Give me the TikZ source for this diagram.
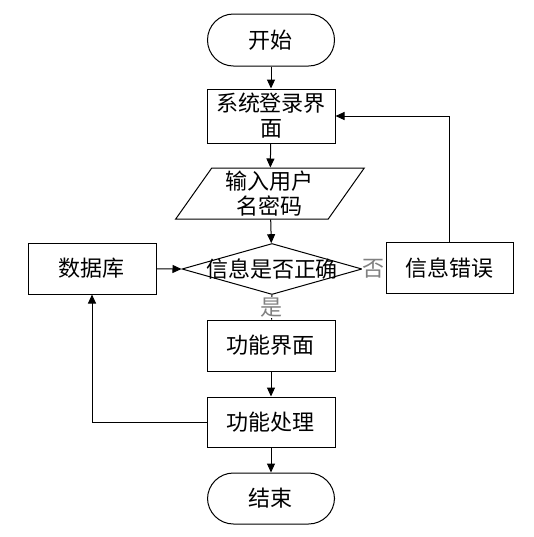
\documentclass[tikz,border=0pt]{standalone}
\usepackage{fontspec}
\setmainfont{Noto Sans CJK SC}
\usepackage{tikz}
\usetikzlibrary{shapes.geometric,arrows.meta}
\tikzstyle{every node}=[font=\fontsize{11}{12.5}\selectfont]
\tikzstyle{terminal}=[draw, rectangle, rounded corners=13pt, minimum width=63.5pt, minimum height=26pt]
\tikzstyle{process}=[draw, rectangle, minimum width=64pt, minimum height=26pt, align=center, inner sep=1pt]
\tikzstyle{io}=[draw, trapezium, trapezium left angle=60, trapezium right angle=120, trapezium stretches=true, minimum width=94.5pt, minimum height=25.5pt, align=center, inner sep=1pt]
\tikzstyle{decision}=[draw, diamond, minimum width=90pt, minimum height=25.5pt, inner sep=0pt]
\tikzstyle{branch}=[fill=white, text=gray, inner sep=0.5pt]

\begin{document}
\begin{tikzpicture}[x=0.5pt, y=-0.5pt, line width=0.5pt, >={Triangle[length=4.5pt,width=4pt]}]
\useasboundingbox (0,0) rectangle (534,537);
\node[terminal] (start) at (271,40) {开始};
\node[process, minimum height=27pt] (login) at (271,116) {系统登录界\\面};
\node[io] (inp) at (270,193.5) {输入用户\\名密码};
\node[decision, label=center:信息是否正确] (chk) at (272,269) {};
\node[process, minimum height=25.5pt] (db) at (92,268.5) {数据库};
\node[process, minimum width=63.5pt, minimum height=25.5pt] (err) at (449.5,268) {信息错误};
\node[process, minimum height=25.5pt] (func) at (271,345.5) {功能界面};
\node[process, minimum height=25pt] (proc) at (271,422) {功能处理};
\node[terminal, minimum height=25.5pt] (end) at (271,498.5) {结束};

\draw[->] (start) -- (login);
\draw[->] (login) -- (inp);
\draw[->] (inp) -- (chk);
\draw[->] (db) -- (chk.west);
\draw (chk.south) -- node[branch] {是} (func);
\draw (chk.east) -- node[branch] {否} (err);
\draw[->] (err.north) |- (login.east);
\draw[->] (func) -- (proc);
\draw[->] (proc) -- (end);
\draw[->] (proc.west) -| (db.south);
\end{tikzpicture}
\end{document}
